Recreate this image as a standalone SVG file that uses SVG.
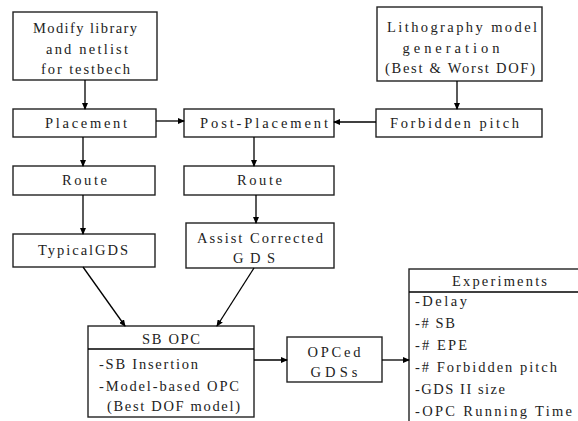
<svg xmlns="http://www.w3.org/2000/svg" width="578" height="421" viewBox="0 0 578 421">
  <defs>
    <marker id="arrow" markerWidth="7" markerHeight="6" refX="6" refY="3" orient="auto" markerUnits="userSpaceOnUse">
      <path d="M0,0 L7,3 L0,6 Z" fill="#000"/>
    </marker>
  </defs>
  <style>
    .box { fill: #fff; stroke: #222; stroke-width: 1.4; }
    .rule { stroke: #000; stroke-width: 1.4; }
    .conn { stroke: #000; stroke-width: 1.3; fill: none; marker-end: url(#arrow); }
    text { font-family: "Liberation Serif", "Times New Roman", serif; font-size: 14.5px; fill: #222; }
    .c { text-anchor: middle; }
  </style>
  <rect width="578" height="421" fill="#fff"/>

  <g id="modify-library">
    <rect class="box" x="13" y="12" width="144" height="68"/>
    <text class="c" x="85" y="33" textLength="104" lengthAdjust="spacing">Modify library</text>
    <text class="c" x="87" y="54" textLength="82" lengthAdjust="spacing">and netlist</text>
    <text class="c" x="85.5" y="74" textLength="89" lengthAdjust="spacing">for testbech</text>
  </g>

  <g id="lithography-model">
    <rect class="box" x="377" y="7" width="165" height="74"/>
    <text class="c" x="462" y="32" textLength="150" lengthAdjust="spacing">Lithography model</text>
    <text class="c" x="451" y="53" textLength="97" lengthAdjust="spacing">generation</text>
    <text class="c" x="460" y="73" textLength="150" lengthAdjust="spacing">(Best &amp; Worst DOF)</text>
  </g>

  <g id="placement">
    <rect class="box" x="13" y="109" width="143" height="28"/>
    <text class="c" x="86" y="128" textLength="82" lengthAdjust="spacing">Placement</text>
  </g>

  <g id="post-placement">
    <rect class="box" x="184" y="109" width="150" height="28"/>
    <text class="c" x="264" y="128" textLength="128" lengthAdjust="spacing">Post-Placement</text>
  </g>

  <g id="forbidden-pitch">
    <rect class="box" x="376" y="109" width="166" height="28"/>
    <text class="c" x="454.5" y="128" textLength="129" lengthAdjust="spacing">Forbidden pitch</text>
  </g>

  <g id="route-left">
    <rect class="box" x="13" y="166" width="142" height="29"/>
    <text class="c" x="84.5" y="185" textLength="45" lengthAdjust="spacing">Route</text>
  </g>

  <g id="route-right">
    <rect class="box" x="184" y="166" width="150" height="29"/>
    <text class="c" x="259.5" y="185" textLength="45" lengthAdjust="spacing">Route</text>
  </g>

  <g id="typical-gds">
    <rect class="box" x="13" y="234" width="142" height="33"/>
    <text class="c" x="83" y="255" textLength="90" lengthAdjust="spacing">TypicalGDS</text>
  </g>

  <g id="assist-corrected-gds">
    <rect class="box" x="186" y="223" width="148" height="45"/>
    <text class="c" x="260" y="243" textLength="126" lengthAdjust="spacing">Assist Corrected</text>
    <text class="c" x="254" y="263" textLength="42" lengthAdjust="spacing">GDS</text>
  </g>

  <g id="sb-opc">
    <rect class="box" x="88" y="326" width="166" height="91"/>
    <line class="rule" x1="88" y1="349" x2="254" y2="349"/>
    <text class="c" x="171" y="344" textLength="58" lengthAdjust="spacing">SB OPC</text>
    <text x="99" y="369" textLength="99" lengthAdjust="spacing">-SB Insertion</text>
    <text x="99" y="391" textLength="140" lengthAdjust="spacing">-Model-based OPC</text>
    <text x="107" y="411" textLength="133" lengthAdjust="spacing">(Best DOF model)</text>
  </g>

  <g id="opced-gdss">
    <rect class="box" x="287" y="337" width="95" height="45"/>
    <text class="c" x="334" y="357" textLength="53" lengthAdjust="spacing">OPCed</text>
    <text class="c" x="334" y="377" textLength="47" lengthAdjust="spacing">GDSs</text>
  </g>

  <g id="experiments">
    <rect class="box" x="409" y="269" width="175" height="160"/>
    <line class="rule" x1="409" y1="292" x2="584" y2="292"/>
    <text class="c" x="499.5" y="286" textLength="95" lengthAdjust="spacing">Experiments</text>
    <text x="415" y="306" textLength="52" lengthAdjust="spacing">-Delay</text>
    <text x="415" y="328" textLength="40" lengthAdjust="spacing">-# SB</text>
    <text x="415" y="350" textLength="52" lengthAdjust="spacing">-# EPE</text>
    <text x="415" y="372" textLength="142" lengthAdjust="spacing">-# Forbidden pitch</text>
    <text x="415" y="394" textLength="90" lengthAdjust="spacing">-GDS II size</text>
    <text x="415" y="416" textLength="157" lengthAdjust="spacing">-OPC Running Time</text>
  </g>

  <g id="connectors">
    <line class="conn" x1="85" y1="80" x2="85" y2="109"/>
    <line class="conn" x1="156" y1="121" x2="184" y2="121"/>
    <line class="conn" x1="376" y1="122" x2="334" y2="122"/>
    <line class="conn" x1="457" y1="81" x2="457" y2="109"/>
    <line class="conn" x1="83" y1="137" x2="83" y2="166"/>
    <line class="conn" x1="83" y1="195" x2="83" y2="234"/>
    <line class="conn" x1="254" y1="137" x2="254" y2="166"/>
    <line class="conn" x1="256" y1="195" x2="256" y2="223"/>
    <line class="conn" x1="83" y1="267" x2="125" y2="326"/>
    <line class="conn" x1="254" y1="268" x2="217" y2="326"/>
    <line class="conn" x1="254" y1="360" x2="287" y2="360"/>
    <line class="conn" x1="382" y1="360" x2="409" y2="360"/>
  </g>
</svg>
